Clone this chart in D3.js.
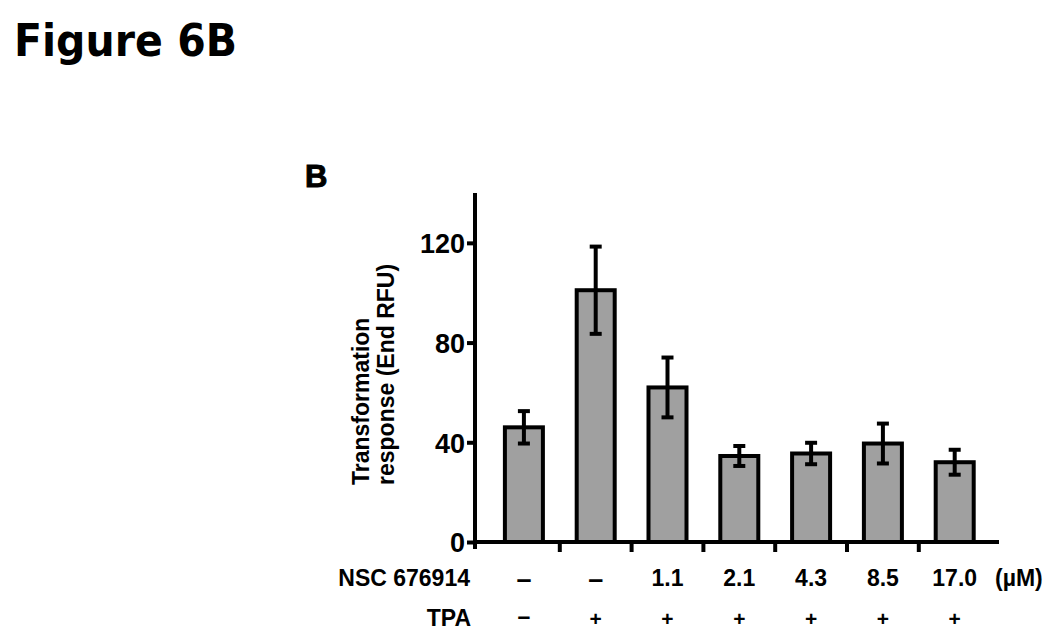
<!DOCTYPE html>
<html>
<head>
<meta charset="utf-8">
<script src="https://cdn.jsdelivr.net/npm/d3@7"></script>
<style>
  html, body { margin: 0; padding: 0; background: #fff; }
  svg text { font-family: "Liberation Sans", Arial, sans-serif; font-weight: bold; fill: #000; }
</style>
</head>
<body>
<svg id="mount" width="1050" height="637"></svg>
<script>
// data
var groups = ["g1", "g2", "g3", "g4", "g5", "g6", "g7"];
var nscLabels = ["\u2013", "\u2013", "1.1", "2.1", "4.3", "8.5", "17.0"];
var tpaLabels = ["\u2013", "+", "+", "+", "+", "+", "+"];
var means = [46, 101, 62, 34.5, 35.5, 39.5, 32];
var errors = [6.5, 17.5, 12, 4, 4.3, 8, 5];
var yTicks = [0, 40, 80, 120];

var barFill = "#a0a0a0";
var lw = 4;

var svg = d3.select("#mount");

svg.append("text")
  .attr("x", 14)
  .attr("y", 56)
  .attr("textLength", 223)
  .attr("lengthAdjust", "spacingAndGlyphs")
  .style("font-family", "'DejaVu Sans', Verdana, sans-serif")
  .style("font-size", "45px")
  .text("Figure 6B");

// panel letter, heavy
svg.append("text")
  .attr("x", 305)
  .attr("y", 187)
  .style("font-size", "31px")
  .style("stroke", "#000")
  .style("stroke-width", "1px")
  .text("B");

var axisX = 475;
var y = d3.scaleLinear().domain([0, 140]).range([542, 193]);
var x = d3.scaleBand()
  .domain(groups)
  .range([488, 990.6])
  .paddingInner(0.415)
  .paddingOuter(0.2075);

var step = x.step();
var gap = step - x.bandwidth();

// y axis
var yAxis = svg.append("g")
  .attr("transform", "translate(" + axisX + ",0)")
  .call(d3.axisLeft(y).tickValues(yTicks).tickSize(8).tickSizeOuter(0).tickPadding(2));
yAxis.select(".domain").remove();
yAxis.selectAll(".tick line").attr("stroke", "#000").attr("stroke-width", lw);
yAxis.selectAll(".tick text")
  .style("font-size", "27px")
  .attr("dy", "0.36em");

svg.append("line")
  .attr("x1", axisX).attr("x2", axisX)
  .attr("y1", y(140)).attr("y2", y(0) + 7)
  .attr("stroke", "#000").attr("stroke-width", lw);

// y axis title
var yTitle = svg.append("text")
  .attr("transform", "translate(369,485) rotate(-90)")
  .style("font-size", "23px");
yTitle.append("tspan").attr("x", 0).attr("y", 0).text("Transformation");
yTitle.append("tspan").attr("x", 0).attr("y", 25).text("response (End RFU)");

// bars
svg.selectAll("rect.bar")
  .data(groups)
  .enter()
  .append("rect")
  .attr("class", "bar")
  .attr("x", function(d) { return x(d) + lw / 2; })
  .attr("width", x.bandwidth() - lw)
  .attr("y", function(d, i) { return y(means[i]); })
  .attr("height", function(d, i) { return y(0) - y(means[i]); })
  .attr("fill", barFill)
  .attr("stroke", "#000")
  .attr("stroke-width", lw);

// error bars
var eb = svg.selectAll("g.err")
  .data(groups)
  .enter()
  .append("g")
  .attr("class", "err")
  .attr("transform", function(d) { return "translate(" + (x(d) + x.bandwidth() / 2) + ",0)"; });
eb.append("line")
  .attr("y1", function(d, i) { return y(means[i] + errors[i]); })
  .attr("y2", function(d, i) { return y(means[i] - errors[i]); })
  .attr("stroke", "#000").attr("stroke-width", lw);
eb.selectAll("line.cap")
  .data(function(d, i) { return [means[i] + errors[i], means[i] - errors[i]]; })
  .enter()
  .append("line")
  .attr("class", "cap")
  .attr("x1", -6).attr("x2", 6)
  .attr("y1", function(v) { return y(v); })
  .attr("y2", function(v) { return y(v); })
  .attr("stroke", "#000").attr("stroke-width", lw);

// x axis line and ticks between groups
svg.append("line")
  .attr("x1", axisX - 2).attr("x2", 999)
  .attr("y1", y(0)).attr("y2", y(0))
  .attr("stroke", "#000").attr("stroke-width", lw);

svg.selectAll("line.xtick")
  .data(groups.slice(1))
  .enter()
  .append("line")
  .attr("class", "xtick")
  .attr("x1", function(d) { return x(d) - gap / 2; })
  .attr("x2", function(d) { return x(d) - gap / 2; })
  .attr("y1", y(0)).attr("y2", y(0) + 10)
  .attr("stroke", "#000").attr("stroke-width", lw);

// row labels
var rowY1 = 586;
var rowY2 = 626;

svg.append("text")
  .attr("x", 470).attr("y", rowY1)
  .attr("text-anchor", "end")
  .style("font-size", "23px")
  .text("NSC 676914");
svg.append("text")
  .attr("x", 471).attr("y", rowY2)
  .attr("text-anchor", "end")
  .style("font-size", "23px")
  .text("TPA");

function isDash(s) { return s === "\u2013"; }

svg.selectAll("text.nsc")
  .data(groups)
  .enter()
  .append("text")
  .attr("class", "nsc")
  .attr("x", function(d) { return x(d) + x.bandwidth() / 2; })
  .attr("y", function(d, i) { return isDash(nscLabels[i]) ? rowY1 + 2 : rowY1; })
  .attr("text-anchor", "middle")
  .style("font-size", function(d, i) { return isDash(nscLabels[i]) ? "27px" : "23px"; })
  .text(function(d, i) { return nscLabels[i]; });

svg.append("text")
  .attr("x", 995).attr("y", rowY1)
  .style("font-size", "23px")
  .text("(\u00b5M)");

svg.selectAll("text.tpa")
  .data(groups)
  .enter()
  .append("text")
  .attr("class", "tpa")
  .attr("x", function(d) { return x(d) + x.bandwidth() / 2; })
  .attr("y", function(d, i) { return isDash(tpaLabels[i]) ? rowY2 - 2 : rowY2; })
  .attr("text-anchor", "middle")
  .style("font-size", function(d, i) { return isDash(tpaLabels[i]) ? "23px" : "21px"; })
  .text(function(d, i) { return tpaLabels[i]; });
</script>
</body>
</html>
